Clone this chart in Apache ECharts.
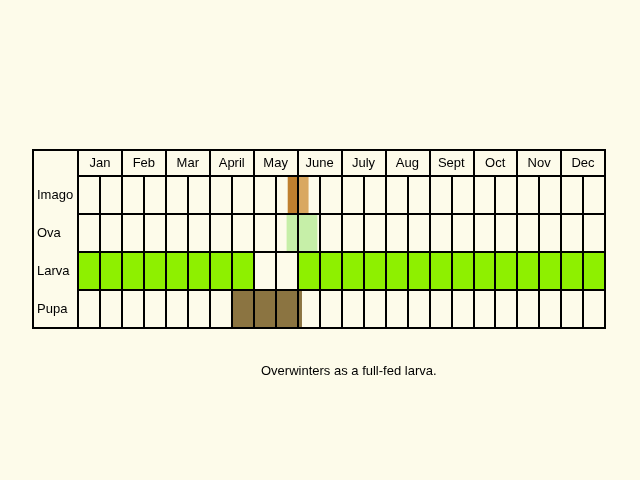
<!DOCTYPE html>
<html>
<head>
<meta charset="utf-8">
<script src="https://cdn.jsdelivr.net/npm/echarts@6/dist/echarts.min.js"></script>
<style>html,body{margin:0;background:#fdfbea}#main{width:640px;height:480px}</style>
</head>
<body>
<div id="main"></div>
<script>
let months = ['Jan','Feb','Mar','April','May','June','July','Aug','Sept','Oct','Nov','Dec'];
let stages = ['Imago','Ova','Larva','Pupa'];
// [stage, start half-month, end half-month, colour]
let bands = [
    ['Imago', 9.55, 10.0, '#c0802f'],
    ['Imago', 10.0, 10.5, '#d9a860'],
    ['Ova', 9.5, 10.9, '#c6efa8'],
    ['Larva', 0, 8, '#8ef000'],
    ['Larva', 10, 24, '#8ef000'],
    ['Pupa', 7.0, 10.2, '#8b7441']
];

let myChart = echarts.init(document.getElementById('main'));
let ff = 'Liberation Sans, Arial, sans-serif';
let option = {
    backgroundColor: '#fdfbea',
    animation: false,
    title: {
        text: 'Overwinters as a full-fed larva.',
        left: 256, top: 360,
        textStyle: {fontSize: 13, fontWeight: 'normal', color: '#000', fontFamily: ff}
    },
    grid: [
        {left: 78, right: 35, top: 176, bottom: 152, show: true, borderColor: '#000', borderWidth: 2, z: 10},
        {left: 78, right: 35, top: 150, height: 26, show: true, borderColor: '#000', borderWidth: 2},
        {left: 33, right: 35, top: 150, bottom: 152, show: true, borderColor: '#000', borderWidth: 2}
    ],
    xAxis: [
        {gridIndex: 0, type: 'value', min: 0, max: 24, interval: 1, axisLabel: {show: false},
         axisLine: {show: false}, axisTick: {show: false},
         splitLine: {show: true, lineStyle: {color: '#000', width: 2}}, z: 10},
        {gridIndex: 1, type: 'category', data: months, axisLine: {show: false}, axisTick: {show: false},
         axisLabel: {margin: -19, fontSize: 13, color: '#000', fontFamily: ff},
         splitLine: {show: true, lineStyle: {color: '#000', width: 2}}},
        {gridIndex: 2, type: 'value', show: false}
    ],
    yAxis: [
        {gridIndex: 0, type: 'category', data: stages, inverse: true, axisLine: {show: false}, axisTick: {show: false},
         axisLabel: {margin: 41, align: 'left', fontSize: 13, color: '#000', fontFamily: ff},
         splitLine: {show: true, lineStyle: {color: '#000', width: 2}}, z: 10},
        {gridIndex: 1, type: 'value', show: false},
        {gridIndex: 2, type: 'value', show: false}
    ],
    series: [{
        type: 'custom',
        xAxisIndex: 0, yAxisIndex: 0,
        z: 1,
        data: bands.map(function (b) { return [b[0], b[1], b[2], b[3]]; }),
        encode: {x: [1, 2], y: 0},
        renderItem: function (params, api) {
            let row = api.value(0);
            let p0 = api.coord([api.value(1), row]);
            let p1 = api.coord([api.value(2), row]);
            let h = api.size([0, 1])[1];
            return {
                type: 'rect',
                shape: {x: p0[0], y: p0[1] - h / 2, width: p1[0] - p0[0], height: h},
                style: {fill: bands[params.dataIndex][3]}
            };
        }
    }]
};
myChart.setOption(option);
</script>
</body>
</html>
